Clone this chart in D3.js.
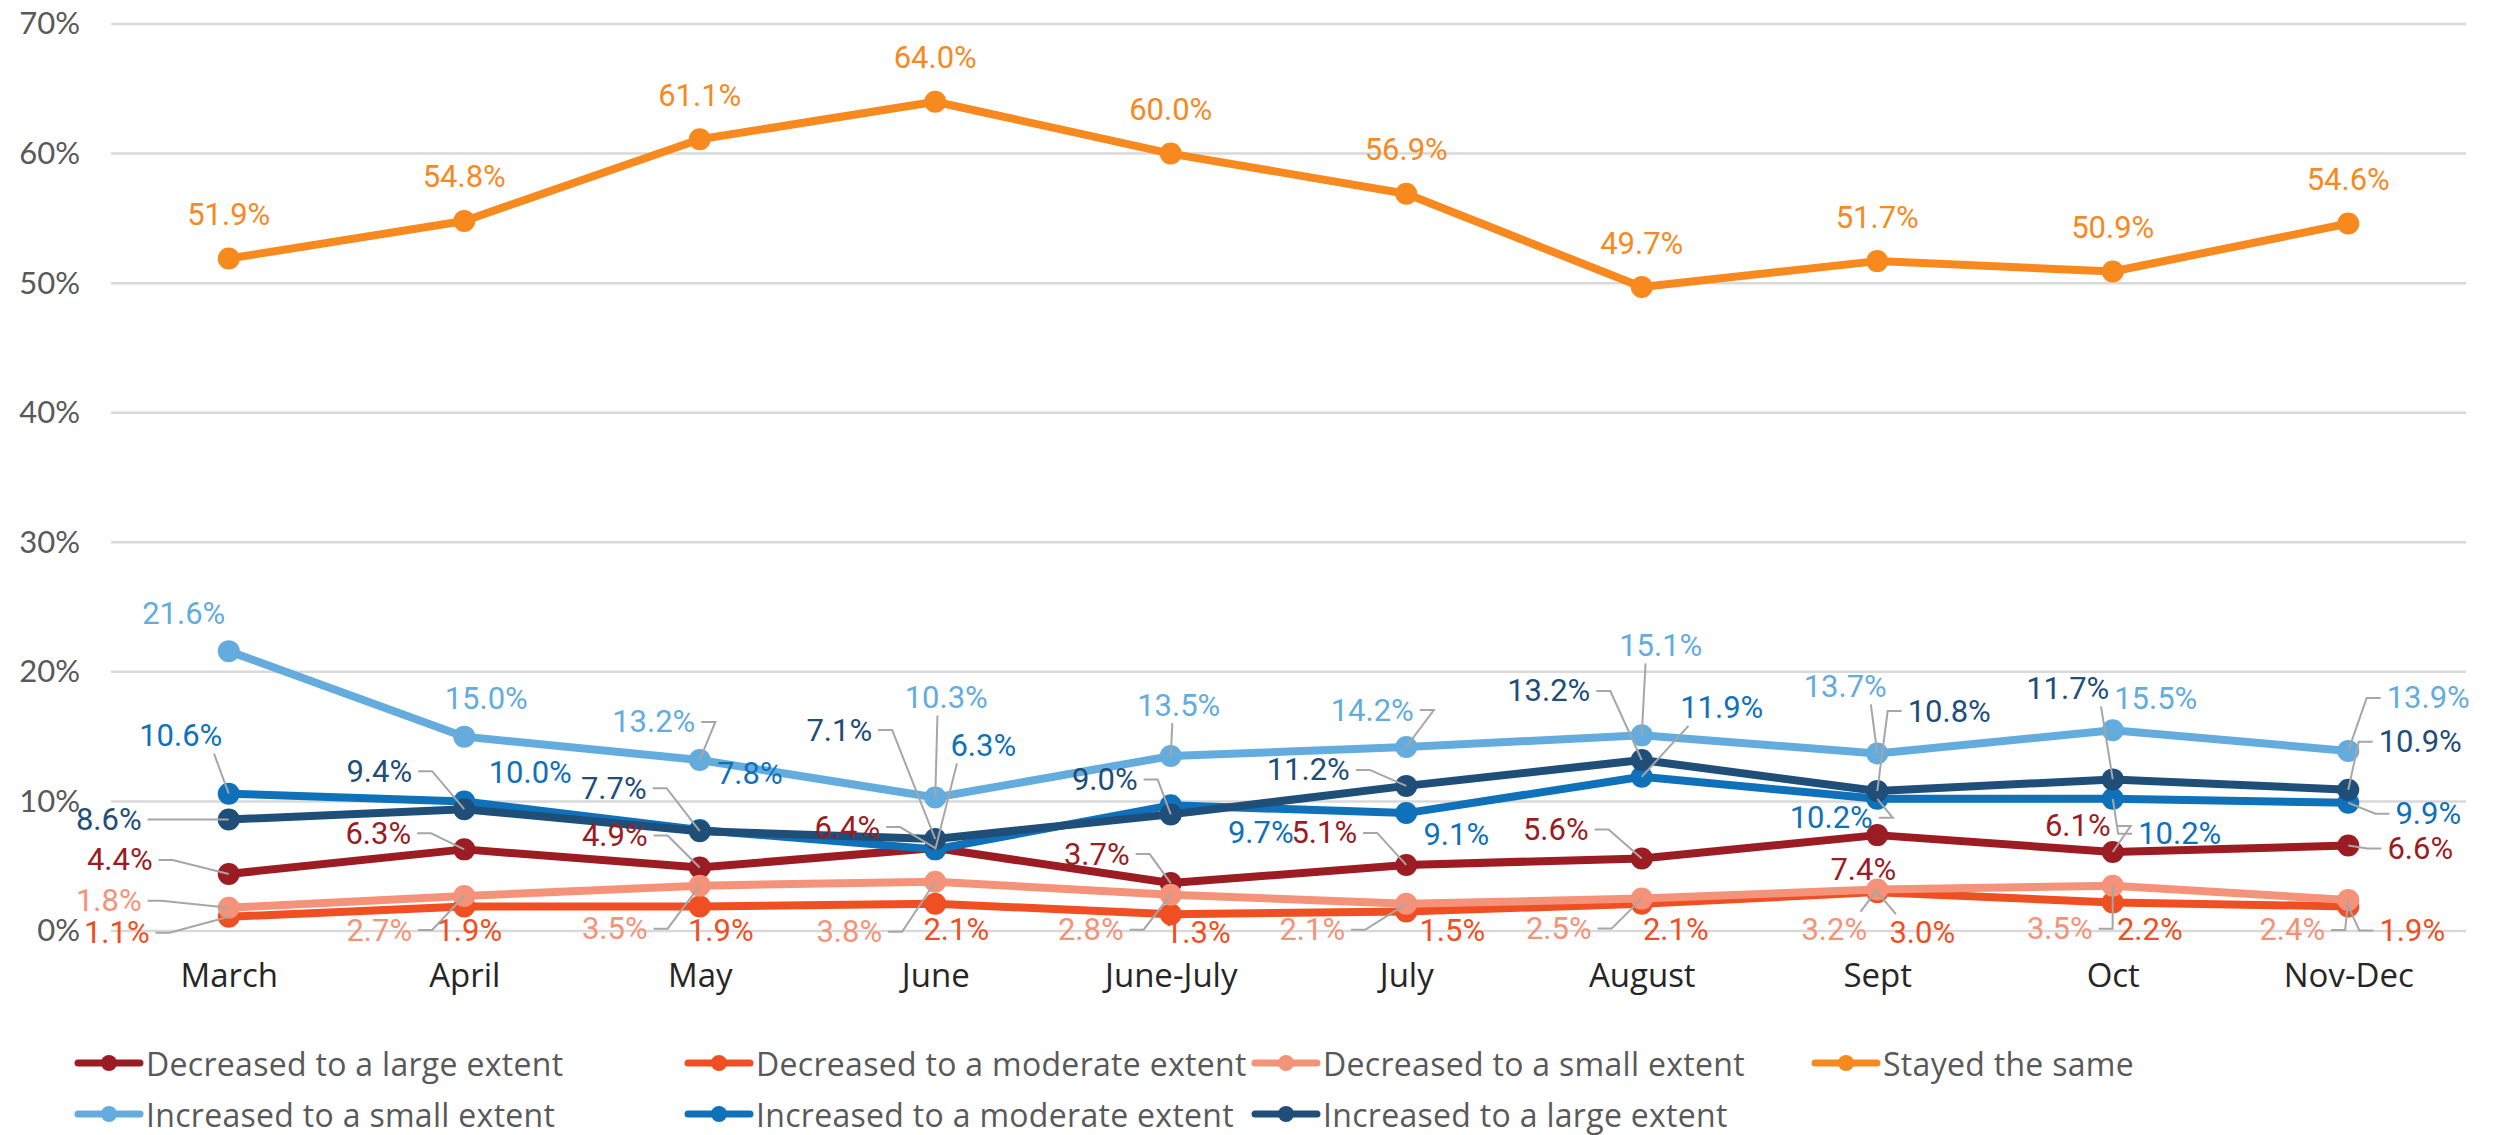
<!DOCTYPE html>
<html>
<head>
<meta charset="utf-8">
<script src="https://cdn.jsdelivr.net/npm/d3@7"></script>
<style>
body{margin:0;background:#fff;}
svg{display:block;}
</style>
</head>
<body>
<script>
//categories and tick values
var months = ["March", "April", "May", "June", "June-July", "July", "August", "Sept", "Oct", "Nov-Dec"];
var yTicks = [0, 10, 20, 30, 40, 50, 60, 70];

//series names (legend order)
var seriesNames = ["Decreased to a large extent", "Decreased to a moderate extent", "Decreased to a small extent",
    "Stayed the same", "Increased to a small extent", "Increased to a moderate extent", "Increased to a large extent"];

//series values, percent
var decLarge    = [4.4, 6.3, 4.9, 6.4, 3.7, 5.1, 5.6, 7.4, 6.1, 6.6];
var decModerate = [1.1, 1.9, 1.9, 2.1, 1.3, 1.5, 2.1, 3.0, 2.2, 1.9];
var decSmall    = [1.8, 2.7, 3.5, 3.8, 2.8, 2.1, 2.5, 3.2, 3.5, 2.4];
var stayedSame  = [51.9, 54.8, 61.1, 64.0, 60.0, 56.9, 49.7, 51.7, 50.9, 54.6];
var incSmall    = [21.6, 15.0, 13.2, 10.3, 13.5, 14.2, 15.1, 13.7, 15.5, 13.9];
var incModerate = [10.6, 10.0, 7.8, 6.3, 9.7, 9.1, 11.9, 10.2, 10.2, 9.9];
var incLarge    = [8.6, 9.4, 7.7, 7.1, 9.0, 11.2, 13.2, 10.8, 11.7, 10.9];

var seriesValues = [decLarge, decModerate, decSmall, stayedSame, incSmall, incModerate, incLarge];
var colors = ["#9b1c22", "#f04e23", "#f4937a", "#f7891f", "#63acdd", "#0f71b9", "#1f4e79"];

//label nudges [dx, dy, leader type] (0 none, 1 side elbow, 2 straight from top/bottom)
var labelNudges = [
    [[-109,-14,1],[-86,-16,1],[-85,-32,1],[-88,-21,1],[-74,-29,1],[-82,-32,1],[-86,-29,1],[-14,34,0],[-35,-26,1],[72,3,1]],
    [[-112,16,1],[5,24,0],[21,24,0],[21,26,0],[27,18,0],[46,19,0],[34,26,0],[45,40,2],[37,27,0],[64,24,1]],
    [[-120,-7,1],[-85,34,1],[-85,43,1],[-86,50,1],[-80,35,1],[-94,26,1],[-83,30,1],[-43,40,2],[-53,43,1],[-56,30,1]],
    [[0,-44,0],[0,-44,0],[0,-44,0],[0,-44,0],[0,-44,0],[0,-44,0],[0,-44,0],[0,-44,0],[0,-44,0],[0,-44,0]],
    [[-45,-38,0],[22,-38,0],[-46,-38,1],[11,-100,2],[8,-51,2],[-34,-37,1],[19,-90,2],[-32,-67,2],[43,-32,0],[80,-53,1]],
    [[-48,-58,2],[66,-29,0],[50,-56,0],[48,-104,2],[90,27,0],[50,21,0],[80,-69,2],[-46,19,1],[67,35,1],[80,11,1]],
    [[-120,0,1],[-85,-38,1],[-86,-43,1],[-96,-109,1],[-66,-35,1],[-98,-16,1],[-93,-69,1],[72,-80,1],[-45,-91,2],[72,-48,1]]
];

var width = 2507,
    height = 1135;

var svg = d3.select("body")
    .append("svg")
    .attr("width", width)
    .attr("height", height);

var x = d3.scalePoint()
    .domain(months)
    .range([111, 2466])
    .padding(0.5);

var y = d3.scaleLinear()
    .domain([0, 70])
    .range([931, 24]);

//gridlines
svg.selectAll(".grid")
    .data(yTicks)
    .enter()
    .append("line")
    .attr("x1", 111)
    .attr("x2", 2466)
    .attr("y1", function(d){ return y(d); })
    .attr("y2", function(d){ return y(d); })
    .attr("stroke", "#d9d9d9")
    .attr("stroke-width", 2.5);

//y axis labels
var yAxis = d3.axisLeft(y)
    .tickValues(yTicks)
    .tickFormat(function(d){ return d + "%"; })
    .tickSize(0)
    .tickPadding(0);
var yG = svg.append("g")
    .attr("transform", "translate(80,0)")
    .call(yAxis);
yG.select(".domain").remove();
yG.selectAll("text")
    .attr("font-family", "Lato, sans-serif")
    .attr("font-size", 31)
    .attr("fill", "#595959");

//x axis labels
var xAxis = d3.axisBottom(x).tickSize(0).tickPadding(0);
var xG = svg.append("g")
    .attr("transform", "translate(0,964)")
    .call(xAxis);
xG.select(".domain").remove();
xG.selectAll("text")
    .attr("font-family", "'Open Sans', sans-serif")
    .attr("font-size", 33)
    .attr("fill", "#262626");

var line = d3.line()
    .x(function(d, i){ return x(months[i]); })
    .y(function(d){ return y(d); });

//lines and points
seriesValues.forEach(function(vals, s){
    var g = svg.append("g");
    g.append("path")
        .datum(vals)
        .attr("d", line)
        .attr("fill", "none")
        .attr("stroke", colors[s])
        .attr("stroke-width", 8)
        .attr("stroke-linejoin", "round");
    g.selectAll("circle")
        .data(vals)
        .enter()
        .append("circle")
        .attr("cx", function(d, i){ return x(months[i]); })
        .attr("cy", function(d){ return y(d); })
        .attr("r", 11)
        .attr("fill", colors[s]);
});

//data labels with leader lines
var labelG = svg.append("g");
var leaderG = svg.append("g");
seriesValues.forEach(function(vals, s){
    vals.forEach(function(v, i){
        var px = x(months[i]), py = y(v);
        var nd = labelNudges[s][i];
        var lx = px + nd[0], ly = py + nd[1];
        var t = labelG.append("text")
            .attr("x", lx)
            .attr("y", ly)
            .attr("text-anchor", "middle")
            .attr("dominant-baseline", "central")
            .attr("font-family", "Roboto, sans-serif")
            .attr("font-size", 31)
            .attr("fill", colors[s])
            .text(v.toFixed(1) + "%");
        if (nd[2] == 0) return;
        var w = t.node().getComputedTextLength(), h = 24;
        var pts;
        if (nd[2] == 1){
            var dir = px > lx ? 1 : -1;
            var sx = lx + dir * (w / 2 + 6);
            pts = [[sx, ly], [sx + dir * 14, ly], [px, py]];
        } else {
            var off = Math.max(-w / 2, Math.min(w / 2, px - lx)) * 0.8;
            var sy = py < ly ? ly - h / 2 - 6 : ly + h / 2 + 6;
            pts = [[lx + off, sy], [px, py]];
        }
        leaderG.append("path")
            .attr("d", d3.line()(pts))
            .attr("fill", "none")
            .attr("stroke", "#a6a6a6")
            .attr("stroke-width", 2);
    });
});

//legend
var legendCols = [78, 688, 1255, 1815];
var legendRows = [1063, 1114];
seriesNames.forEach(function(name, s){
    var col = s < 4 ? s : s - 4;
    var row = s < 4 ? 0 : 1;
    var lg = svg.append("g")
        .attr("transform", "translate(" + legendCols[col] + "," + legendRows[row] + ")");
    lg.append("line")
        .attr("x1", 0).attr("x2", 62)
        .attr("stroke", colors[s])
        .attr("stroke-width", 7)
        .attr("stroke-linecap", "round");
    lg.append("circle")
        .attr("cx", 31)
        .attr("r", 8)
        .attr("fill", colors[s]);
    lg.append("text")
        .attr("x", 68)
        .attr("dominant-baseline", "central")
        .attr("font-family", "'Open Sans', sans-serif")
        .attr("font-size", 32)
        .attr("letter-spacing", 0.3)
        .attr("fill", "#595959")
        .text(name);
});
</script>
</body>
</html>
